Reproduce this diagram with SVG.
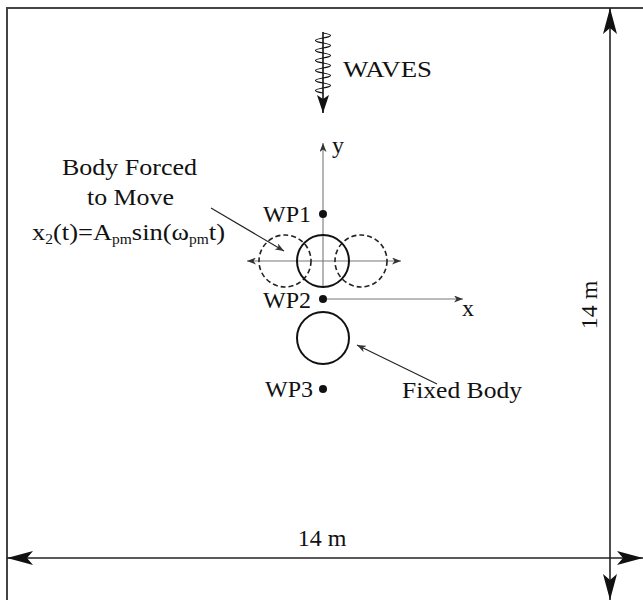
<svg xmlns="http://www.w3.org/2000/svg" width="643" height="600" viewBox="0 0 643 600" font-family="'Liberation Serif', 'Times New Roman', serif">
<style>
.t { font-family: 'Liberation Serif', 'Times New Roman', Times, serif; font-size: 24px; fill: #111; }
.sub { font-size: 14px; }
.ax { stroke: #777; stroke-width: 1.1; fill: none; }
.dim { stroke: #222; stroke-width: 1.6; fill: none; }
.ptr { stroke: #222; stroke-width: 1.1; fill: none; }
.body { stroke: #111; stroke-width: 2; fill: none; }
.ghost { stroke: #222; stroke-width: 1.6; fill: none; stroke-dasharray: 5 3; }
.dot { fill: #111; }
</style>
<defs>
<marker id="big" markerUnits="userSpaceOnUse" viewBox="0 0 26 14" refX="26" refY="7" markerWidth="26" markerHeight="14" orient="auto-start-reverse">
<path d="M0,0 L26,7 L0,14 L6,7 Z" fill="#111"/>
</marker>
<marker id="mid" markerUnits="userSpaceOnUse" viewBox="0 0 18 12" refX="18" refY="6" markerWidth="18" markerHeight="12" orient="auto-start-reverse">
<path d="M0,0 L18,6 L0,12 L4,6 Z" fill="#111"/>
</marker>
<marker id="small" markerUnits="userSpaceOnUse" viewBox="0 0 9 7" refX="9" refY="3.5" markerWidth="9" markerHeight="7" orient="auto-start-reverse">
<path d="M0,0 L9,3.5 L0,7 L2.5,3.5 Z" fill="#333"/>
</marker>
</defs>

<g id="frame">
<path d="M7,600 V8 H643" stroke="#444" stroke-width="2" fill="none"/>
</g>

<g id="connectors">
<line class="dim" x1="7" y1="558" x2="643" y2="558" marker-start="url(#big)" marker-end="url(#big)"/>
<line class="dim" x1="610" y1="8" x2="610" y2="600" marker-start="url(#big)" marker-end="url(#big)"/>
<line class="ax" x1="323" y1="287" x2="323" y2="143" marker-end="url(#small)"/>
<line class="ax" x1="323" y1="299" x2="463" y2="299" marker-end="url(#small)"/>
<line class="ax" x1="247" y1="261" x2="401" y2="261" marker-start="url(#small)" marker-end="url(#small)"/>
<line class="ptr" x1="211" y1="208" x2="284" y2="251" marker-end="url(#small)"/>
<line class="ptr" x1="437" y1="384" x2="357" y2="345" marker-end="url(#small)"/>
</g>

<g id="waves">
<line x1="323" y1="32" x2="323" y2="113" stroke="#111" stroke-width="1.6" marker-end="url(#mid)"/>
<path d="M323,33 q15,2.5 0,5 q-15,2.5 0,5 q15,2.5 0,5 q-15,2.5 0,5 q15,2.5 0,5 q-15,2.5 0,5 q15,2.5 0,5 q-15,2.5 0,5 q15,2.5 0,5 q-15,2.5 0,5 q15,2.5 0,5 q-15,2.5 0,5" stroke="#111" stroke-width="1.2" fill="none"/>
<text class="t" x="343" y="77" textLength="89" lengthAdjust="spacingAndGlyphs">WAVES</text>
</g>

<g id="axis-labels">
<text class="t" x="332" y="153">y</text>
<text class="t" x="462" y="316">x</text>
</g>

<g id="moving-body">
<circle class="ghost" cx="285" cy="261" r="26"/>
<circle class="ghost" cx="361" cy="261" r="26"/>
<circle class="body" cx="323" cy="261" r="26"/>
</g>

<g id="fixed-body">
<circle class="body" cx="323" cy="338" r="26"/>
</g>

<g id="wp1">
<circle class="dot" cx="323" cy="214" r="4"/>
<text class="t" x="311" y="222" text-anchor="end">WP1</text>
</g>
<g id="wp2">
<circle class="dot" cx="323" cy="299" r="4"/>
<text class="t" x="311" y="308" text-anchor="end">WP2</text>
</g>
<g id="wp3">
<circle class="dot" cx="323" cy="389" r="4"/>
<text class="t" x="313" y="397" text-anchor="end">WP3</text>
</g>

<g id="label-forced">
<text class="t" x="62" y="175" textLength="135" lengthAdjust="spacingAndGlyphs">Body Forced</text>
<text class="t" x="87" y="205" textLength="87" lengthAdjust="spacingAndGlyphs">to Move</text>
<text class="t" x="32" y="240" textLength="193" lengthAdjust="spacingAndGlyphs">x<tspan class="sub" dy="4">2</tspan><tspan dy="-4">(t)=A</tspan><tspan class="sub" dy="4">pm</tspan><tspan dy="-4">sin(ω</tspan><tspan class="sub" dy="4">pm</tspan><tspan dy="-4">t)</tspan></text>
</g>

<g id="label-fixed">
<text class="t" x="402" y="398" textLength="120" lengthAdjust="spacingAndGlyphs">Fixed Body</text>
</g>

<g id="dim-labels">
<text class="t" x="322" y="546" text-anchor="middle">14 m</text>
<text class="t" transform="translate(597,305) rotate(-90)" text-anchor="middle">14 m</text>
</g>
</svg>
